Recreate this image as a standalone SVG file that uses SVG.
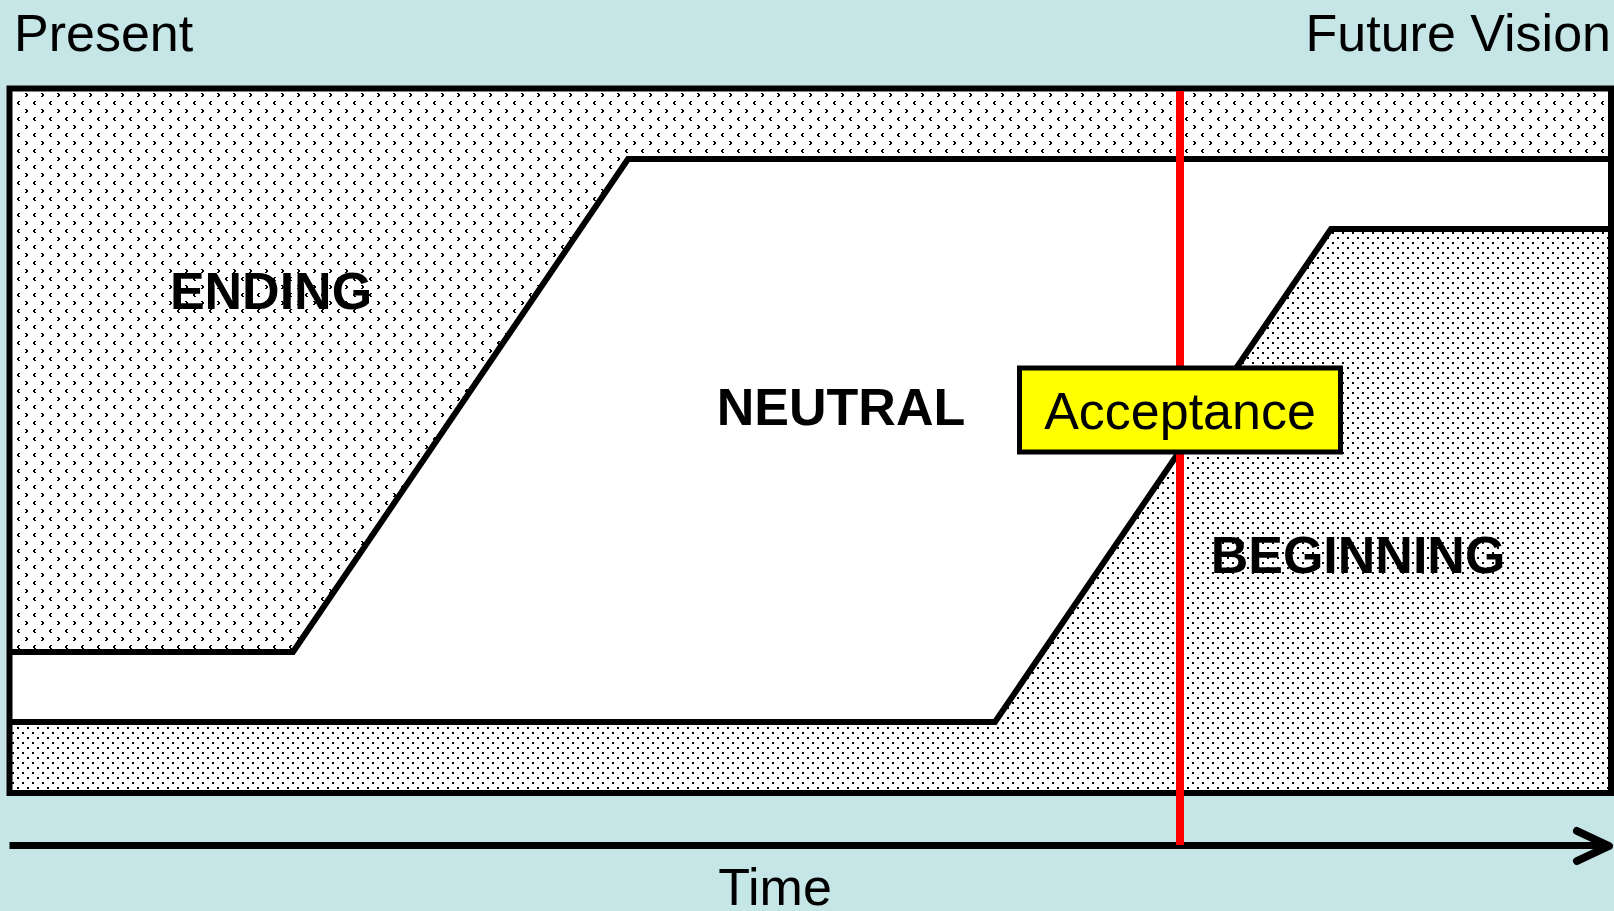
<svg xmlns="http://www.w3.org/2000/svg" width="1614" height="911" viewBox="0 0 1614 911">
<style>
.lbl{font-family:"Liberation Sans",Arial,sans-serif;font-size:52px;fill:#000}
.bold{font-weight:bold}
.edge{fill:none;stroke:#000;stroke-width:6;stroke-linejoin:miter}
</style>
<defs>
<pattern id="chev" patternUnits="userSpaceOnUse" x="8" y="12" width="16" height="16">
<rect width="16" height="16" fill="#fff"/>
<path d="M1 1h2v1h-2zM2 2h2v2h-2zM1 4h2v1h-2zM10 9h2v1h-2zM9 10h2v2h-2zM10 12h2v1h-2z" fill="#000"/>
</pattern>
<pattern id="dots" patternUnits="userSpaceOnUse" x="0" y="0" width="10" height="10">
<rect width="10" height="10" fill="#fff"/>
<rect x="2" y="2" width="2" height="2" fill="#000"/>
<rect x="7" y="7" width="2" height="2" fill="#000"/>
</pattern>
</defs>
<rect width="1614" height="911" fill="#C6E5E6"/>
<g id="frame-area">
<rect x="9.5" y="88.5" width="1601.5" height="704.5" fill="#fff"/>
</g>
<g id="ending">
<polygon points="9.5,88.5 1611,88.5 1611,159 628,159 293,652 9.5,652" fill="url(#chev)"/>
<text class="lbl bold" x="271" y="309" text-anchor="middle">ENDING</text>
</g>
<g id="beginning">
<polygon points="9.5,722 995,722 1331,229 1611,229 1611,793 9.5,793" fill="url(#dots)"/>
<text class="lbl bold" x="1358" y="573" text-anchor="middle">BEGINNING</text>
</g>
<g id="neutral">
<text class="lbl bold" x="841" y="425" text-anchor="middle">NEUTRAL</text>
</g>
<g id="boundaries">
<polyline class="edge" points="9.5,652 293,652 628,159 1611,159"/>
<polyline class="edge" points="9.5,722 995,722 1331,229 1611,229"/>
<rect class="edge" x="9.5" y="88.5" width="1601.5" height="704.5"/>
</g>
<g id="connectors">
<line x1="9.5" y1="845.5" x2="1606" y2="845.5" stroke="#000" stroke-width="7"/>
<polyline points="1577,831 1609,846 1577,861" fill="none" stroke="#000" stroke-width="8" stroke-linecap="round" stroke-linejoin="round"/>
<line x1="1180" y1="91" x2="1180" y2="845" stroke="#FF0000" stroke-width="8"/>
</g>
<g id="acceptance">
<rect x="1019.5" y="368" width="321" height="84" fill="#FFFF00" stroke="#000" stroke-width="5"/>
<text class="lbl" x="1180" y="429" text-anchor="middle">Acceptance</text>
</g>
<g id="present">
<text class="lbl" x="14" y="51">Present</text>
</g>
<g id="future">
<text class="lbl" x="1611" y="51" text-anchor="end">Future Vision</text>
</g>
<g id="time">
<text class="lbl" x="775" y="905" text-anchor="middle">Time</text>
</g>
</svg>
